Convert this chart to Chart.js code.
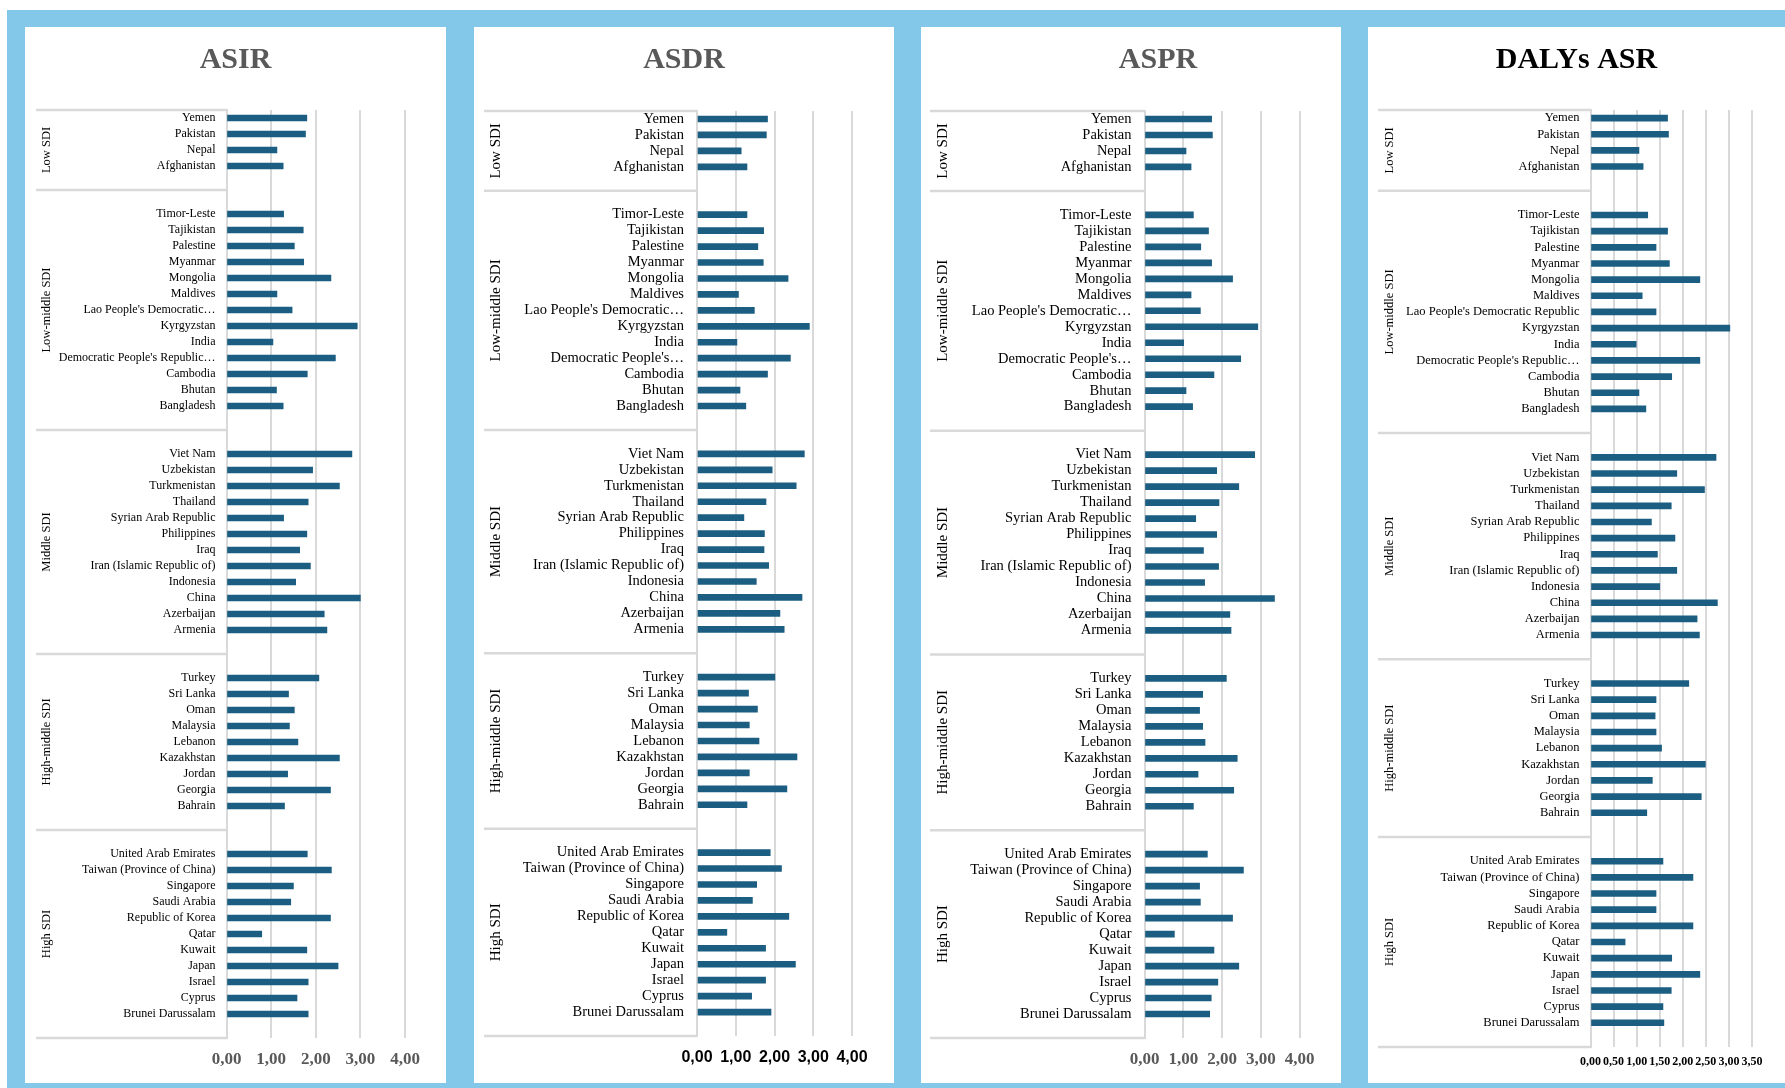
<!DOCTYPE html>
<html>
<head>
<meta charset="utf-8">
<title>ASIR, ASDR, ASPR and DALYs ASR by SDI group</title>
<script src="https://cdn.jsdelivr.net/npm/chart.js@4.4.1/dist/chart.umd.min.js"></script>
<style>
  html, body { margin: 0; padding: 0; background: #ffffff; }
  body { width: 1785px; height: 1088px; position: relative; overflow: hidden; }
  #frame { position: absolute; left: 7px; top: 10px; width: 1778px; height: 1078px; background: #83C8E9; }
  .panel { position: absolute; top: 27px; height: 1056px; background: #ffffff; }
  canvas { position: absolute; top: 27px; }
</style>
</head>
<body>
<div id="frame"></div>
<div class="panel" style="left:25px;width:421px"></div>
<div class="panel" style="left:474px;width:420px"></div>
<div class="panel" style="left:921px;width:420px"></div>
<div class="panel" style="left:1368px;width:417px"></div>
<canvas id="cASIR" width="421" height="1056" style="left:25px"></canvas>
<canvas id="cASDR" width="420" height="1056" style="left:474px"></canvas>
<canvas id="cASPR" width="474" height="1056" style="left:921px"></canvas>
<canvas id="cDALY" width="417" height="1056" style="left:1368px"></canvas>

<script>
// ---- SDI groups and their countries (top-to-bottom order) ----
const sdiGroups = ['Low SDI', 'Low-middle SDI', 'Middle SDI', 'High-middle SDI', 'High SDI'];

const lowSdi = ['Yemen', 'Pakistan', 'Nepal', 'Afghanistan'];
const lowMiddleSdi = ['Timor-Leste', 'Tajikistan', 'Palestine', 'Myanmar', 'Mongolia', 'Maldives',
  "Lao People's Democratic Republic", 'Kyrgyzstan', 'India', "Democratic People's Republic of Korea",
  'Cambodia', 'Bhutan', 'Bangladesh'];
const middleSdi = ['Viet Nam', 'Uzbekistan', 'Turkmenistan', 'Thailand', 'Syrian Arab Republic',
  'Philippines', 'Iraq', 'Iran (Islamic Republic of)', 'Indonesia', 'China', 'Azerbaijan', 'Armenia'];
const highMiddleSdi = ['Turkey', 'Sri Lanka', 'Oman', 'Malaysia', 'Lebanon', 'Kazakhstan', 'Jordan',
  'Georgia', 'Bahrain'];
const highSdi = ['United Arab Emirates', 'Taiwan (Province of China)', 'Singapore', 'Saudi Arabia',
  'Republic of Korea', 'Qatar', 'Kuwait', 'Japan', 'Israel', 'Cyprus', 'Brunei Darussalam'];

const groupCountries = [lowSdi, lowMiddleSdi, middleSdi, highMiddleSdi, highSdi];

// ---- values, same country order as above ----
const asir = [
  1.80, 1.77, 1.13, 1.27,
  1.28, 1.72, 1.52, 1.73, 2.34, 1.13, 1.47, 2.93, 1.04, 2.44, 1.81, 1.12, 1.27,
  2.81, 1.93, 2.53, 1.83, 1.28, 1.80, 1.64, 1.88, 1.55, 3.00, 2.19, 2.25,
  2.07, 1.39, 1.52, 1.41, 1.60, 2.53, 1.37, 2.33, 1.30,
  1.81, 2.35, 1.50, 1.44, 2.33, 0.79, 1.80, 2.50, 1.83, 1.58, 1.83
];
const asdr = [
  1.82, 1.79, 1.14, 1.29,
  1.29, 1.72, 1.57, 1.71, 2.35, 1.07, 1.48, 2.90, 1.03, 2.41, 1.82, 1.11, 1.26,
  2.77, 1.94, 2.56, 1.78, 1.21, 1.74, 1.73, 1.85, 1.53, 2.71, 2.14, 2.25,
  2.01, 1.33, 1.56, 1.35, 1.60, 2.58, 1.35, 2.32, 1.29,
  1.89, 2.18, 1.54, 1.43, 2.37, 0.77, 1.77, 2.54, 1.77, 1.41, 1.91
];
const aspr = [
  1.73, 1.75, 1.07, 1.20,
  1.26, 1.65, 1.45, 1.73, 2.27, 1.20, 1.44, 2.92, 1.01, 2.48, 1.79, 1.07, 1.24,
  2.84, 1.86, 2.43, 1.92, 1.32, 1.86, 1.52, 1.91, 1.55, 3.35, 2.20, 2.23,
  2.11, 1.50, 1.42, 1.50, 1.56, 2.39, 1.38, 2.30, 1.26,
  1.62, 2.55, 1.42, 1.44, 2.27, 0.77, 1.79, 2.43, 1.89, 1.72, 1.68
];
const dalysAsr = [
  1.67, 1.69, 1.05, 1.14,
  1.24, 1.67, 1.42, 1.71, 2.37, 1.12, 1.42, 3.02, 0.99, 2.37, 1.76, 1.05, 1.20,
  2.72, 1.87, 2.47, 1.75, 1.32, 1.83, 1.45, 1.87, 1.50, 2.75, 2.31, 2.36,
  2.13, 1.42, 1.40, 1.42, 1.54, 2.49, 1.34, 2.40, 1.22,
  1.57, 2.22, 1.42, 1.42, 2.22, 0.75, 1.76, 2.37, 1.75, 1.57, 1.59
];

// shortened category labels where the axis column is too narrow
const shortLaoLong = "Lao People's Democratic\u2026";
const shortDprkLong = "Democratic People's Republic\u2026";
const shortDprk = "Democratic People's\u2026";
const labelsAsir = { "Lao People's Democratic Republic": shortLaoLong, "Democratic People's Republic of Korea": shortDprkLong };
const labelsMid = { "Lao People's Democratic Republic": shortLaoLong, "Democratic People's Republic of Korea": shortDprk };
const labelsDalys = { "Democratic People's Republic of Korea": shortDprkLong };

// Builds the category rows: each group is padded by empty rows, as in the grouped axis.
function buildRows(values, shortNames) {
  const labels = [], data = [], edges = [0];
  let k = 0;
  groupCountries.forEach((list, g) => {
    if (g > 0) { labels.push(''); data.push(null); }
    list.forEach(name => {
      labels.push(shortNames[name] || name);
      data.push(values[k++]);
    });
    labels.push(''); data.push(null);
    edges.push(labels.length);
  });
  return { labels, data, edges };
}

// Draws the group separator lines and the rotated SDI group names left of the category labels.
const sdiGroupAxis = {
  id: 'sdiGroupAxis',
  afterDraw(chart, args, opts) {
    const y = chart.scales.y;
    const ctx = chart.ctx;
    const rowH = y.getPixelForValue(1) - y.getPixelForValue(0);
    const edgePx = opts.edges.map(e => y.getPixelForValue(e) - rowH / 2);
    const right = chart.chartArea.left;
    ctx.save();
    ctx.strokeStyle = '#D9D9D9';
    ctx.lineWidth = 2.5;
    edgePx.forEach(py => {
      ctx.beginPath();
      ctx.moveTo(opts.lineLeft, py);
      ctx.lineTo(right, py);
      ctx.stroke();
    });
    ctx.fillStyle = '#000000';
    ctx.font = opts.fontSize + 'px "Liberation Serif", "Times New Roman", serif';
    ctx.textAlign = 'center';
    ctx.textBaseline = 'middle';
    sdiGroups.forEach((name, g) => {
      const cy = (edgePx[g] + edgePx[g + 1]) / 2;
      ctx.save();
      ctx.translate(opts.labelX, cy);
      ctx.rotate(-Math.PI / 2);
      ctx.fillText(name, 0, 0);
      ctx.restore();
    });
    ctx.restore();
  }
};

const serif = '"Liberation Serif", "Times New Roman", serif';
const sans = '"Liberation Sans", Arial, sans-serif';

function commaTick(v) {
  return Number(v).toFixed(2).replace('.', ',');
}

function makePanel(cfg) {
  const rows = buildRows(cfg.values, cfg.shortNames);
  return new Chart(document.getElementById(cfg.canvas), {
    type: 'bar',
    data: {
      labels: rows.labels,
      datasets: [{
        data: rows.data,
        backgroundColor: '#1B5E82',
        borderWidth: 0,
        barThickness: 6
      }]
    },
    plugins: [sdiGroupAxis],
    options: {
      indexAxis: 'y',
      responsive: false,
      animation: false,
      layout: { padding: 0 },
      plugins: {
        legend: { display: false },
        tooltip: { enabled: false },
        title: {
          display: true,
          text: cfg.title,
          color: cfg.titleColor,
          font: { family: serif, size: 30, weight: 'bold', lineHeight: 1.2 },
          padding: { top: 15, bottom: cfg.titleGap - 2 }
        },
        sdiGroupAxis: {
          edges: rows.edges,
          lineLeft: cfg.lineLeft,
          labelX: cfg.labelX,
          fontSize: cfg.groupFont
        }
      },
      scales: {
        x: {
          min: 0,
          max: cfg.max,
          ticks: {
            stepSize: cfg.step,
            callback: commaTick,
            color: cfg.tickColor,
            font: { family: cfg.tickFamily, size: cfg.tickSize, weight: 'bold' },
            padding: cfg.tickPad,
            maxRotation: 0,
            autoSkip: false
          },
          grid: { color: '#D9D9D9', lineWidth: 2, drawTicks: false },
          border: { display: false },
          afterFit(scale) { scale.height = cfg.xHeight; }
        },
        y: {
          ticks: {
            autoSkip: false,
            color: '#000000',
            font: { family: serif, size: cfg.labelFont },
            padding: cfg.labelPad
          },
          grid: { display: false, drawTicks: false },
          border: { display: true, color: '#D9D9D9', width: 2 },
          afterFit(scale) { scale.width = cfg.yWidth; }
        },
        // empty right-hand margin box, keeps the plot narrower than the panel
        margin: {
          type: 'linear',
          axis: 'y',
          position: 'right',
          ticks: { display: false },
          grid: { display: false, drawTicks: false },
          border: { display: false },
          afterFit(scale) { scale.width = cfg.padRight; }
        }
      }
    }
  });
}

makePanel({
  canvas: 'cASIR', title: 'ASIR', titleColor: '#595959', titleGap: 34, values: asir, shortNames: labelsAsir,
  yWidth: 201.5, padRight: 41, xHeight: 45, max: 4, step: 1,
  tickFamily: serif, tickSize: 17, tickColor: '#595959', tickPad: 11,
  labelFont: 12, labelPad: 11, groupFont: 12.5, lineLeft: 11, labelX: 22
});
makePanel({
  canvas: 'cASDR', title: 'ASDR', titleColor: '#595959', titleGap: 35, values: asdr, shortNames: labelsMid,
  yWidth: 223, padRight: 42, xHeight: 47, max: 4, step: 1,
  tickFamily: sans, tickSize: 16, tickColor: '#000000', tickPad: 12,
  labelFont: 14.5, labelPad: 13, groupFont: 15, lineLeft: 10, labelX: 22
});
makePanel({
  canvas: 'cASPR', title: 'ASPR', titleColor: '#595959', titleGap: 35, values: aspr, shortNames: labelsMid,
  yWidth: 223.5, padRight: 95.3, xHeight: 45, max: 4, step: 1,
  tickFamily: serif, tickSize: 17, tickColor: '#595959', tickPad: 11,
  labelFont: 14.5, labelPad: 13, groupFont: 15, lineLeft: 9, labelX: 22
});
makePanel({
  canvas: 'cDALY', title: 'DALYs ASR', titleColor: '#000000', titleGap: 34, values: dalysAsr, shortNames: labelsDalys,
  yWidth: 222.5, padRight: 33, xHeight: 36, max: 3.5, step: 0.5,
  tickFamily: serif, tickSize: 12, tickColor: '#000000', tickPad: 8,
  labelFont: 12.5, labelPad: 11, groupFont: 12.5, lineLeft: 10, labelX: 22
});
</script>
</body>
</html>
